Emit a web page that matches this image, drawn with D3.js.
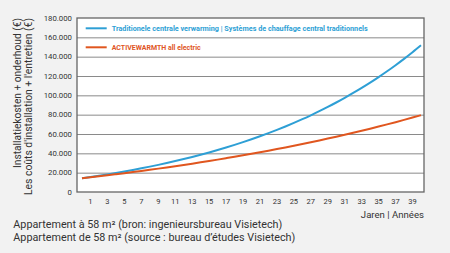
<!DOCTYPE html>
<html>
<head>
<meta charset="utf-8">
<script src="https://cdn.jsdelivr.net/npm/d3@7"></script>
<style>
  body { margin: 0; background: #f2f2f2; }
  svg { display: block; font-family: Roboto, "Noto Sans", sans-serif; }
</style>
</head>
<body>
<svg id="chart" width="450" height="253"></svg>
<script>
// years 0..40
const years = d3.range(0, 41);
// Traditionele centrale verwarming (cumulative cost, €)
const traditional = [14200, 15490, 16830, 18230, 19700, 21230, 22830, 24510, 26250, 28080,
  29990, 31990, 34070, 36250, 38530, 40910, 43390, 45990, 48710, 51550,
  54510, 57610, 60850, 64230, 67770, 71470, 75330, 79360, 83580, 87990,
  92590, 97410, 102440, 107690, 113180, 118920, 124920, 131190, 137740, 144580, 151730];
// ACTIVEWARMTH all electric
const activewarmth = [14200, 15210, 16250, 17300, 18390, 19500, 20630, 21790, 22970, 24190,
  25430, 26700, 28000, 29330, 30690, 32080, 33500, 34960, 36440, 37970,
  39530, 41120, 42750, 44420, 46130, 47870, 49660, 51480, 53350, 55270,
  57220, 59220, 61270, 63360, 65510, 67700, 69940, 72230, 74580, 76980, 79430];
const xTicks = d3.range(1, 40, 2);
const yTicks = d3.range(0, 180001, 20000);
const seriesNames = ["Traditionele centrale verwarming | Systèmes de chauffage central traditionnels",
  "ACTIVEWARMTH all electric"];
const colors = ["#2e9fd5", "#e0561f"];

const svg = d3.select("#chart");
const mLeft = 77, mRight = 424, mTop = 18, mBottom = 192;

const x = d3.scaleLinear().domain([0, 40]).range([82, 421]);
const y = d3.scaleLinear().domain([0, 180000]).range([mBottom, mTop]);
const fmt = d3.formatLocale({decimal: ",", thousands: ".", grouping: [3], currency: ["", "€"]}).format(",");

// plot background
svg.append("rect")
  .attr("x", mLeft).attr("y", mTop)
  .attr("width", mRight - mLeft).attr("height", mBottom - mTop)
  .attr("fill", "#fff");

// gridlines
svg.append("g")
  .selectAll("line")
  .data(yTicks.slice(1, -1))
  .join("line")
  .attr("x1", mLeft).attr("x2", mRight)
  .attr("y1", d => y(d) + 0.5).attr("y2", d => y(d) + 0.5)
  .attr("stroke", "#8a8a8a").attr("stroke-width", 1);

svg.append("rect")
  .attr("x", mLeft).attr("y", mTop)
  .attr("width", mRight - mLeft).attr("height", mBottom - mTop)
  .attr("fill", "none").attr("stroke", "#666").attr("stroke-width", 1.3);

// y tick labels
svg.append("g")
  .selectAll("text")
  .data(yTicks)
  .join("text")
  .attr("x", 72).attr("y", d => y(d) + 2.7)
  .attr("text-anchor", "end")
  .attr("font-size", 7.8).attr("fill", "#333")
  .text(d => fmt(d));

// x tick labels
svg.append("g")
  .selectAll("text")
  .data(xTicks)
  .join("text")
  .attr("x", d => x(d)).attr("y", 204)
  .attr("text-anchor", "middle")
  .attr("font-size", 7.5).attr("fill", "#333")
  .text(d => d);

svg.append("text")
  .attr("x", 424).attr("y", 217.5)
  .attr("text-anchor", "end")
  .attr("font-size", 9.6).attr("fill", "#333")
  .text("Jaren | Années");

// y axis title (two lines)
const yTitle = ["Installatiekosten + onderhoud (€)", "Les coûts d'installation + l'entretien (€)"];
const yTitleLen = [150, 177];
svg.append("g")
  .selectAll("text")
  .data(yTitle)
  .join("text")
  .attr("transform", (d, i) => `translate(${20.5 + i * 11.5},18) rotate(-90)`)
  .attr("text-anchor", "end")
  .attr("font-size", 10).attr("fill", "#333")
  .attr("textLength", (d, i) => yTitleLen[i])
  .attr("lengthAdjust", "spacingAndGlyphs")
  .text(d => d);

// lines
const line = d3.line()
  .x((d, i) => x(years[i]))
  .y(d => y(d))
  .curve(d3.curveMonotoneX);

[traditional, activewarmth].forEach((s, i) => {
  svg.append("path")
    .datum(s)
    .attr("fill", "none")
    .attr("stroke", colors[i])
    .attr("stroke-width", 2)
    .attr("d", line);
});

// legend
const legend = svg.append("g")
  .selectAll("g")
  .data(seriesNames)
  .join("g")
  .attr("transform", (d, i) => `translate(0,${28.3 + i * 19})`);

legend.append("line")
  .attr("x1", 85.7).attr("x2", 106.7)
  .attr("stroke", (d, i) => colors[i]).attr("stroke-width", 2);

legend.append("text")
  .attr("x", 111.7).attr("y", 2.7)
  .attr("font-size", 7.8).attr("font-weight", "bold")
  .attr("fill", (d, i) => colors[i])
  .attr("textLength", (d, i) => i === 0 ? 256 : 89)
  .attr("lengthAdjust", "spacingAndGlyphs")
  .text(d => d);

// footnote
const notes = ["Appartement à 58 m² (bron: ingenieursbureau Visietech)",
  "Appartement de 58 m² (source : bureau d’études Visietech)"];
const noteLen = [269, 282];
svg.append("g")
  .selectAll("text")
  .data(notes)
  .join("text")
  .attr("x", 13.3).attr("y", (d, i) => 227.8 + i * 12.8)
  .attr("font-size", 10.4).attr("fill", "#333")
  .attr("textLength", (d, i) => noteLen[i])
  .attr("lengthAdjust", "spacingAndGlyphs")
  .text(d => d);
</script>
</body>
</html>
